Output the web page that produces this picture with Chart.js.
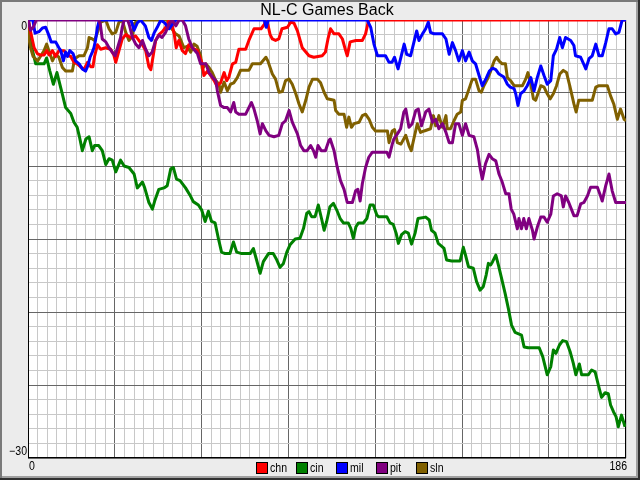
<!DOCTYPE html>
<html>
<head>
<meta charset="utf-8">
<title>NL-C Games Back</title>
<script src="https://cdn.jsdelivr.net/npm/chart.js@4.4.1/dist/chart.umd.min.js"></script>
<style>
  html, body { margin: 0; padding: 0; background: #ececec; }
  #wrap { width: 640px; height: 480px; }
</style>
</head>
<body>
<div id="wrap"><canvas id="gb" width="640" height="480"></canvas></div>
<script>
// Games back by day
const teams = ['chn', 'cin', 'mil', 'pit', 'sln'];
const teamColors = ['#ff0000', '#008000', '#0000ff', '#800080', '#806000'];

const chnDay = [0, 1, 1.9, 2.9, 3.9, 5, 5.8, 6.6, 7.6, 8.6, 9.6, 11.2, 12.2, 13.3, 14.3, 15.3, 16.3, 17.4, 18.5, 19.5, 20.2, 20.7, 21.6, 22.6, 24.2, 25.7, 26.7, 27.3, 28.3, 29.3, 30.4, 31.9, 33.5, 34.5, 35.6, 36.6, 37.6, 38.2, 38.9, 39.7, 40.7, 41.8, 42.8, 43.9, 44.8, 45.5, 46.1, 46.9, 48, 49, 50, 51, 52.7, 54.2, 54.7, 55.8, 56.8, 57.9, 58.7, 59.9, 61, 61.8, 62.5, 63.6, 64.6, 65.6, 67.7, 68.7, 70.3, 72.5, 73.5, 74, 74.6, 75.3, 76, 77, 78, 79, 80.7, 81.7, 82.7, 83.8, 85.3, 87.4, 88.9, 91.5, 92.5, 93.3, 94.1, 95.2, 96.7, 97.8, 98.8, 99.3, 100.2, 102, 104, 105, 105.8, 106.3, 186];
const chnGB = [0, -1, -1.9, -2.3, -2.4, -2.4, -2.1, -2.4, -2.1, -2.5, -2.1, -2.1, -2.4, -2.5, -2.9, -3, -3.2, -3.4, -2.9, -3.2, -3.2, -2.5, -1.7, -2, -1.9, -2, -2.4, -2.9, -2.1, -1.3, -1, -1.2, -1.1, -1.4, -1.7, -2.1, -3.2, -3.4, -2.5, -1.4, -1, -0.8, -0.5, 0, -0.3, -1, -1.9, -1.4, -2.1, -2.3, -1.7, -1.9, -2.1, -3, -3.8, -3.5, -3.8, -4.15, -4.5, -4.3, -3.6, -4.15, -3.9, -3, -2.9, -2, -2, -1.4, -0.6, -0.6, -0.3, 0, -0.3, -1, -1.3, -1.4, -1.3, -0.6, -0.5, -0.15, -0.2, -0.75, -1.9, -2.45, -2.55, -2.45, -2.2, -1.3, -0.6, -0.95, -0.95, -1.3, -2.1, -2.45, -1.5, -1.4, -1.4, -0.95, -0.15, 0, 0];

const cinDay = [0, 0.5, 1.2, 2.4, 5, 5.8, 6.8, 7.9, 9, 10.7, 11.7, 13.3, 14.3, 15.3, 16, 16.9, 18, 19, 20, 20.7, 22, 23.1, 24.2, 25.2, 26.2, 27.3, 28.8, 29.9, 31.4, 33, 34, 35.6, 36.3, 37.6, 38.7, 39.4, 40.7, 42.3, 43.3, 44.4, 45.2, 46.2, 47.3, 49, 50.4, 51.4, 53, 54, 55.1, 56.1, 57.1, 58.2, 59.2, 60.2, 61.3, 62.8, 63.9, 64.9, 66.5, 69.1, 70.1, 71.1, 72.2, 73.2, 74.8, 76.3, 77.4, 78.4, 79.4, 80.5, 81.5, 83.1, 84.6, 85.7, 86.7, 87.4, 88.2, 89.3, 90.3, 91.4, 92.1, 92.9, 93.9, 95, 96, 97.1, 98.1, 99.6, 100.4, 101.2, 102, 102.8, 104.3, 105.4, 106.4, 107.4, 108.5, 109, 111.6, 112.6, 113.6, 114.5, 115.2, 116.2, 117.3, 118.3, 119.3, 120.4, 121.3, 123.7, 124.8, 125.5, 126.6, 127.6, 128.7, 129.4, 130.2, 131.8, 134.4, 135.4, 136.2, 137, 138.5, 139.5, 140.6, 141.6, 142.5, 143.2, 143.9, 144.5, 145.5, 146.3, 147.3, 148.4, 149.4, 150.4, 151.5, 153.5, 154.3, 155.6, 159, 160.1, 161.5, 162.6, 163.4, 164.2, 165.3, 166.3, 167.5, 168.6, 169.6, 170.4, 171.5, 172.2, 174.3, 175.3, 176.4, 177.4, 178.4, 179.5, 180.5, 181.2, 182.1, 182.9, 183.6, 184.6, 185.7];
const cinGB = [0, -0.6, -1.9, -3, -3, -2.6, -3.5, -4.4, -3.6, -5.1, -6, -6.4, -7, -7.35, -8, -8.95, -8.15, -8, -8.95, -8.6, -8.6, -8.95, -9.9, -9.5, -9.6, -10.4, -9.6, -10, -10.1, -10.55, -11.5, -11.1, -11.5, -12.5, -12.95, -12.4, -11.6, -11.5, -11.35, -10.2, -10.1, -10.9, -11, -11.5, -12, -12.44, -12.67, -13, -13.8, -13.1, -13.8, -13.9, -14.95, -15.9, -16, -16, -15.2, -15.9, -16, -16, -15.65, -16.44, -17.35, -16.55, -16, -16, -16.44, -16.94, -16.7, -15.9, -15.4, -15, -14.95, -14.27, -13.24, -13.13, -13.47, -13.47, -12.67, -13.7, -14.4, -13.8, -12.8, -12.56, -13, -13.6, -13.9, -13.9, -14.27, -14.95, -14.16, -13.9, -13.9, -13.6, -12.67, -12.67, -13.36, -13.47, -13.47, -13.9, -14, -14.6, -15.3, -14.7, -14.5, -14.6, -15.35, -14.6, -13.6, -13.5, -13.7, -14.4, -14.6, -15.3, -15.5, -15.64, -16.44, -16.5, -16.5, -15.57, -16.2, -16.9, -17, -17.9, -18.5, -18.27, -17.47, -16.67, -16.78, -16.55, -16.1, -16.78, -17.7, -18.72, -19.75, -20.9, -21.4, -21.58, -22.4, -22.45, -22.45, -23.06, -24.3, -23.75, -22.6, -22.83, -22.26, -21.96, -22.03, -22.7, -23.5, -24.3, -23.56, -24.3, -24.3, -23.97, -24.1, -25, -25.85, -25.53, -25.6, -26.37, -26.83, -27.17, -27.86, -27.06, -27.86];

const milDay = [0, 1.5, 2.2, 3.4, 4.5, 5.5, 6.5, 7.2, 8.6, 9.6, 10.2, 11, 11.7, 12.3, 13, 14, 14.8, 15.9, 16.9, 17.9, 18.7, 19.3, 20, 20.5, 21, 21.6, 22.2, 32, 33, 34, 35, 36.5, 37.6, 38.4, 39.2, 40.2, 41.3, 42.5, 43.9, 44.9, 46, 73.5, 74.1, 74.7, 105.5, 106.6, 107.6, 108.7, 111.2, 112.3, 113.2, 114, 115.1, 116.1, 117, 117.8, 119, 120, 120.9, 121.6, 122.7, 123.7, 124.5, 125.2, 126.3, 128.9, 130, 131, 132, 133, 134, 135.1, 136.1, 137.2, 138.2, 139.2, 140.3, 141.3, 142.5, 143.5, 144.5, 145.5, 146.5, 148, 149.1, 150, 151.2, 151.7, 152.4, 153.2, 154.3, 155.3, 156.4, 157.4, 158.4, 159.5, 160.5, 161.5, 162.6, 163.4, 164.4, 165.4, 166.2, 167.2, 168.8, 169.8, 170.3, 171.9, 173.5, 174.5, 175.5, 176.6, 177.6, 178.6, 179.7, 180.7, 181.7, 182.8, 183.8, 184.8, 186];
const milGB = [0, 0, -0.9, -0.8, -0.55, -0.5, -1.05, -1.5, -1.5, -1.9, -2.1, -2.8, -2.2, -2.5, -2.1, -2.3, -2.8, -3, -3.35, -3.5, -3.1, -2.55, -2.2, -1.9, -1.4, -0.5, 0, 0, -0.7, -0.2, 0, -0.4, -1.2, -1.4, -0.9, -0.5, 0, -0.2, -0.6, -0.3, 0, 0, -0.5, 0, 0, -0.5, -1.65, -2.45, -2.45, -2.9, -2.9, -2.55, -3.35, -2.45, -1.65, -2.35, -2.45, -1.55, -0.75, -1.4, -0.95, -0.6, -0.15, -0.85, -0.95, -0.95, -1.3, -2.35, -1.55, -2.1, -2.8, -2.1, -2.8, -2.2, -2.8, -3, -3.8, -4.5, -4, -3.5, -3.3, -3.4, -3.7, -3.9, -4.4, -4.6, -4.7, -5.05, -5.85, -5.05, -4.85, -4.5, -3.95, -4.85, -3.95, -3.15, -3.8, -4.4, -4.15, -2.45, -2, -1.2, -1.9, -1.2, -1.4, -1.75, -2.45, -2.55, -3.35, -2.65, -2.45, -1.65, -2.45, -2.45, -1.55, -0.6, -0.6, -0.95, -0.85, 0, 0];

const pitDay = [0, 0.8, 1.6, 2.6, 22, 22.5, 23.1, 24.2, 25.2, 26.2, 27.1, 28, 28.8, 29.3, 29.9, 31, 31.6, 32.5, 33.5, 34.5, 35.6, 36.6, 37.6, 38.6, 39.7, 40.7, 41.7, 42.8, 43.9, 44.8, 46, 47, 48, 49, 50, 51.1, 52.7, 53.7, 55.3, 56.3, 57.3, 58.4, 58.9, 59.9, 61, 62, 63, 64, 64.6, 65.6, 67.7, 68.7, 69.5, 70.3, 71.3, 72.2, 72.9, 74, 75, 76.5, 78, 79.1, 80.1, 81.2, 82.2, 83.8, 84.8, 85.8, 86.8, 87.9, 88.8, 89.5, 90.2, 91.2, 92.5, 93.6, 94, 95.2, 96.2, 97.2, 98.3, 99.3, 100.9, 101.9, 102.6, 103.3, 104, 105, 106, 107.1, 110.2, 111.6, 112.3, 113.3, 113.8, 114.9, 115.9, 116.9, 117.5, 118.5, 119.5, 120.6, 121.4, 122.4, 123.7, 124.7, 125.8, 126.8, 127.8, 128.9, 130, 131, 132, 133, 134, 135.1, 136.1, 137.2, 138.7, 139.8, 140.6, 141.3, 142.3, 143.4, 144.4, 145.5, 146.5, 147.5, 148.6, 149.6, 150.3, 151.1, 152.2, 152.7, 153.5, 154.2, 155, 155.8, 156.9, 157.4, 158.4, 159.5, 160.5, 161.5, 162.6, 163.4, 164.6, 165.9, 166.5, 167.2, 168.2, 169.8, 170.8, 171.9, 172.9, 174, 175, 177.1, 178.1, 178.6, 179.7, 180.7, 181.7, 182.8, 186];
const pitGB = [0, -0.7, -0.5, 0, 0, -0.3, -1.3, -1.5, -1.9, -2.2, -2.45, -1.8, -1.2, -0.5, 0, 0, -0.4, -1.2, -1.65, -1.9, -1.4, -2, -2.45, -2.2, -1.4, -1.05, -1.2, -0.85, -0.25, 0, -0.4, 0, 0, -0.4, -1.3, -1.9, -2.3, -3, -3, -3.6, -3.9, -4.15, -4.85, -5.85, -6, -6, -6.3, -5.65, -6.3, -6.45, -6.45, -6, -5.65, -6.1, -6.9, -7.8, -7.1, -7.6, -7.9, -8, -7.9, -7.1, -6.9, -6.2, -7, -7.8, -8.6, -8.95, -8.95, -8.6, -8.95, -9.4, -8.6, -8.95, -8.95, -8.25, -8.15, -8.95, -10.1, -11, -11.6, -12.5, -12.5, -11.7, -11.6, -12.4, -11.2, -10.1, -9.4, -9.05, -9.05, -9.05, -9.4, -8.5, -8.15, -7.8, -7.45, -6.3, -6.1, -7.35, -7.1, -6.2, -6.1, -7.25, -6.3, -6.1, -7, -6.8, -7.45, -7.1, -7.7, -8.4, -8.4, -7.1, -7.1, -7.9, -7.1, -7.9, -8, -8.9, -10.1, -10.9, -9.85, -9.2, -9.5, -9.65, -10.55, -11.1, -11.9, -11.9, -12.95, -13.3, -14.3, -13.6, -14.3, -13.6, -14.3, -13.6, -14.4, -15, -14.2, -13.5, -13.5, -13.85, -13.3, -12.05, -11.9, -12.05, -12.8, -12.05, -12.5, -13.4, -13.4, -12.6, -12.5, -12.05, -11.45, -11.45, -12.05, -12.4, -11.35, -10.55, -11.7, -12.5, -12.5];

const slnDay = [0, 0.3, 0.8, 1.6, 3, 4, 5, 5.8, 6.5, 7.6, 8.6, 9.6, 10.7, 11.7, 13.8, 14.5, 15.9, 17.4, 18.5, 19, 20, 20.7, 21.6, 22.6, 24.2, 25.2, 26.2, 27.3, 28.3, 29.3, 30.4, 31.4, 32.5, 33, 34.5, 43.3, 44.4, 45.9, 47, 48.5, 49.5, 50.6, 51.6, 52.6, 53.7, 54.2, 55.3, 56.3, 57.3, 58.4, 59.4, 59.9, 61, 62, 63, 64, 65.1, 66.1, 68.7, 69.8, 72.3, 74, 74.6, 76, 77, 78.1, 79.1, 80.1, 81.2, 82.2, 83.3, 84.3, 85.3, 86.4, 87.4, 88.5, 90, 91, 92.1, 93.1, 95.2, 95.7, 96.7, 98.3, 99.1, 99.8, 100.6, 101.4, 103, 104, 105, 106.1, 107.1, 108.1, 111.8, 112.3, 113.3, 114, 114.9, 116, 117.5, 118.5, 119.2, 120, 121.1, 122.1, 123.2, 125.2, 126.1, 126.8, 127.8, 128.9, 130, 130.4, 131.4, 132.5, 133.5, 134.6, 135.1, 136.1, 137.2, 138.2, 139.2, 140.3, 141, 141.8, 142.9, 143.9, 145, 145.8, 146.5, 147.5, 148.5, 149.1, 150.1, 151.2, 153.8, 154.8, 155.5, 156.4, 157.2, 157.9, 158.6, 159.5, 160.5, 161.5, 162.4, 163.4, 164.4, 165.4, 166.5, 167.5, 168.5, 169.8, 170.5, 171.3, 175.5, 176.6, 177.6, 180.2, 181.2, 182.2, 183.3, 184.3, 185.4, 186];
const slnGB = [0, -1.3, -1.9, -2.5, -2.8, -2.45, -2.1, -1.65, -2.1, -2.8, -2.35, -2.55, -3.25, -3.5, -3.5, -2.65, -2.45, -2.45, -1.9, -1.2, -1.3, -1.4, -0.85, -0.15, 0, -0.6, -0.95, -0.85, -0.15, 0, -0.85, -1.4, -1.1, -0.25, 0, 0, -0.5, -0.95, -1.1, -1.9, -1.8, -2.2, -1.65, -1.8, -2.45, -3.35, -3, -3.25, -3.6, -4.15, -4.4, -4.95, -4.25, -4.85, -4.4, -4.3, -3.95, -3.45, -3.45, -3, -3, -2.55, -2.8, -3.7, -4.05, -4.95, -4.9, -4.15, -4.05, -4.4, -5.05, -5.75, -6.3, -5.5, -4.6, -4.05, -4.05, -4.3, -4.95, -5.4, -5.5, -6.2, -6.45, -6.45, -7.35, -6.65, -7.35, -7.1, -7, -6.55, -6.45, -6.8, -7.35, -7.6, -7.6, -8.4, -7.6, -7.5, -8.4, -8.5, -7.9, -8.6, -8.95, -8.15, -7.1, -7.7, -7.6, -7.45, -6.55, -7.25, -6.55, -7.35, -6.55, -7.45, -7.45, -6.9, -6.45, -6.3, -5.5, -5.4, -4.7, -4.05, -4.05, -4.85, -4.95, -4.5, -4.05, -3.5, -2.8, -2.55, -2.8, -3, -3, -3.95, -4.15, -4.5, -4.5, -4.05, -3.6, -4.4, -5.4, -5.5, -5.05, -4.5, -4.6, -5.05, -5.4, -5.05, -4.5, -3.7, -3.45, -3.6, -4.5, -5.75, -6.3, -5.5, -5.5, -4.6, -4.5, -4.5, -5.2, -5.75, -6.8, -6.1, -6.8, -6.9];

// axis range and the only labelled ticks
const xMin = 0, xMax = 186;
const yMin = -30, yMax = 0;
const xLabelValues = [0, 186];
const yLabelValues = [0, -30];

const days = [chnDay, cinDay, milDay, pitDay, slnDay];
const gbs = [chnGB, cinGB, milGB, pitGB, slnGB];
// which line sits on top where they overlap at 0 (lower = drawn later)
const drawOrder = [2, 4, 1, 0, 3];

const FONT = '"Liberation Sans", Arial, sans-serif';
const NARROW = 0.88; // labels in the picture are a little condensed

function toPoints(xs, ys) {
  return xs.map(function (x, i) { return { x: x, y: ys[i] }; });
}

// draw text squeezed horizontally, anchored left or right
function narrowText(ctx, s, x, y, align) {
  const w = ctx.measureText(s).width * NARROW;
  const left = align === 'right' ? x - w : x;
  ctx.save();
  ctx.translate(left, y);
  ctx.scale(NARROW, 1);
  ctx.textAlign = 'left';
  ctx.fillText(s, 0, 0);
  ctx.restore();
}

const datasets = teams.map(function (t, i) {
  return {
    label: t,
    data: toPoints(days[i], gbs[i]),
    borderColor: teamColors[i],
    backgroundColor: teamColors[i],
    borderWidth: 3,
    pointRadius: 0,
    tension: 0,
    fill: false,
    borderJoinStyle: 'round',
    order: drawOrder[i]
  };
});

// background, bevel frame, plot border, end labels and legend
const framePlugin = {
  id: 'frame',
  beforeDraw: function (chart) {
    const ctx = chart.ctx;
    const a = chart.chartArea;
    const w = chart.width, h = chart.height;
    ctx.save();
    ctx.fillStyle = '#ececec';
    ctx.fillRect(0, 0, w, h);
    ctx.fillStyle = '#7a7a7a';
    ctx.fillRect(0, 0, w, 2);
    ctx.fillRect(0, 0, 2, h);
    ctx.fillStyle = '#a0a0a0';
    ctx.fillRect(2, h - 4, w - 4, 2);
    ctx.fillRect(w - 4, 2, 2, h - 4);
    ctx.fillStyle = '#303030';
    ctx.fillRect(0, h - 2, w, 2);
    ctx.fillRect(w - 2, 0, 2, h);
    ctx.fillStyle = '#ffffff';
    ctx.fillRect(a.left, a.top, a.right - a.left, a.bottom - a.top);
    ctx.restore();
  },
  beforeDatasetsDraw: function (chart) {
    const ctx = chart.ctx;
    const a = chart.chartArea;
    ctx.save();
    ctx.strokeStyle = '#000';
    ctx.lineWidth = 1;
    ctx.strokeRect(Math.round(a.left) + 0.5, Math.round(a.top) + 0.5,
      Math.round(a.right - a.left) - 1, Math.round(a.bottom - a.top) - 1);
    ctx.restore();
  },
  afterDraw: function (chart) {
    const ctx = chart.ctx;
    const a = chart.chartArea;
    const xs = chart.scales.x, ys = chart.scales.y;
    ctx.save();
    ctx.fillStyle = '#000';
    ctx.font = '12px ' + FONT;
    ctx.textBaseline = 'middle';

    // y end labels sit just inside the plot's top and bottom
    narrowText(ctx, String(yLabelValues[0]), a.left - 1, ys.getPixelForValue(yLabelValues[0]) + 7, 'right');
    narrowText(ctx, String(yLabelValues[1]).replace('-', '\u2212'), a.left - 1, ys.getPixelForValue(yLabelValues[1]) - 6, 'right');

    // x end labels
    const ly = a.bottom + 9;
    narrowText(ctx, String(xLabelValues[0]), xs.getPixelForValue(xLabelValues[0]) + 1, ly, 'left');
    narrowText(ctx, String(xLabelValues[1]), xs.getPixelForValue(xLabelValues[1]) + 1, ly, 'right');

    // legend
    const lx0 = 256, step = 40, box = 12;
    const by = a.bottom + 4;
    chart.data.datasets.forEach(function (ds, i) {
      const bx = lx0 + i * step;
      ctx.fillStyle = ds.borderColor;
      ctx.fillRect(bx, by, box, box);
      ctx.strokeStyle = '#000';
      ctx.lineWidth = 1;
      ctx.strokeRect(bx + 0.5, by + 0.5, box - 1, box - 1);
      ctx.fillStyle = '#000';
      narrowText(ctx, ds.label, bx + box + 2, by + box / 2 + 1, 'left');
    });
    ctx.restore();
  }
};

new Chart(document.getElementById('gb'), {
  type: 'line',
  data: { datasets: datasets },
  plugins: [framePlugin],
  options: {
    responsive: false,
    animation: false,
    devicePixelRatio: 1,
    layout: { padding: { left: 28, right: 14, top: 0, bottom: 22 } },
    plugins: {
      legend: { display: false },
      tooltip: { enabled: false },
      title: {
        display: true,
        text: 'NL-C Games Back',
        fullSize: false,
        color: '#000',
        font: { family: FONT, size: 16, weight: 'normal', lineHeight: 1 },
        padding: { top: 3, bottom: 1 }
      }
    },
    scales: {
      x: {
        type: 'linear',
        min: xMin,
        max: xMax,
        ticks: { display: false, stepSize: 3 },
        grid: {
          drawTicks: false,
          color: function (c) { return c.tick.value % 27 === 0 ? '#666666' : '#c8c8c8'; }
        },
        border: { display: false }
      },
      y: {
        type: 'linear',
        min: yMin,
        max: yMax,
        ticks: { display: false, stepSize: 1 },
        grid: {
          drawTicks: false,
          color: function (c) { return c.tick.value % 5 === 0 ? '#666666' : '#c8c8c8'; }
        },
        border: { display: false }
      }
    }
  }
});
</script>
</body>
</html>
